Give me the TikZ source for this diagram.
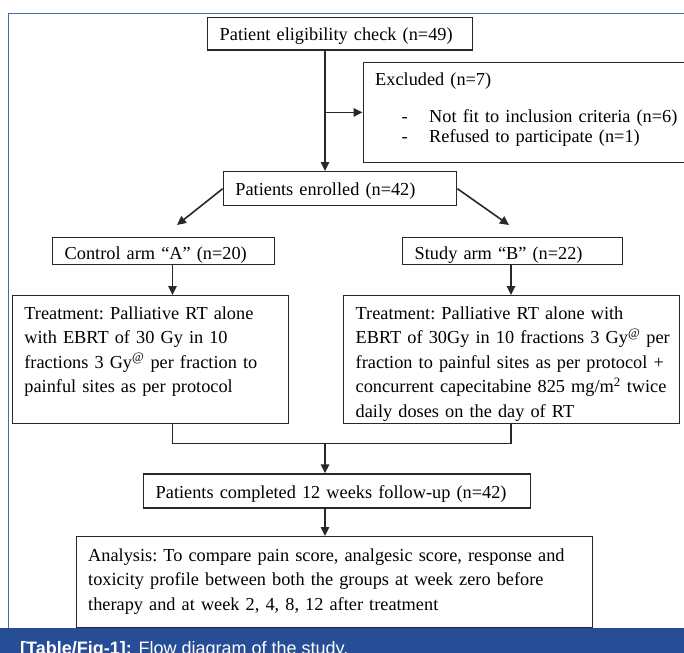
\documentclass[tikz,border=0pt]{standalone}
\usepackage{fontspec}
\setmainfont{Liberation Serif}
\setsansfont{Liberation Sans}
\usepackage{tikz}
\usetikzlibrary{arrows.meta, calc}

\definecolor{capblue}{RGB}{38,77,150}
\definecolor{frameblue}{RGB}{72,106,176}
\definecolor{boxline}{RGB}{40,40,40}

% list line inside the "Excluded" box
\newcommand{\exitem}[1]{\makebox[54bp][l]{\hspace*{26.5bp}-}#1}

\tikzset{
    box/.style={draw=boxline, line width=1.4bp, anchor=north west, align=left,
        inner xsep=12bp, inner ysep=0pt},
    boxsize/.style n args={3}{text width=#1, text height=#2, text depth=#3},
    arr/.style={draw=boxline, line width=1.6bp, -{Triangle[length=9bp, width=8.5bp]}},
    link/.style={draw=boxline, line width=1.6bp},
}

\begin{document}
\begin{tikzpicture}[x=1bp, y=-1bp, font=\frenchspacing\fontsize{18.3bp}{24.5bp}\selectfont]
    \useasboundingbox (0,0) rectangle (684,653);

    % --- frame and caption bar ---
    \draw[frameblue, line width=1.2bp] (700,13.3) -- (8.3,13.3) -- (8.3,628.3);
    \fill[capblue] (0,628.3) rectangle (700,670);
    \node[anchor=base west, inner sep=0pt, text=white,
          font=\sffamily\fontsize{18bp}{20bp}\selectfont] (caption) at (20,654.5)
        {\textbf{[Table/Fig-1]:} Flow diagram of the study.};

    % --- boxes (top left corner at pixel coordinates) ---
    \node[box, boxsize={241bp}{22.5bp}{9.8bp}] (elig) at (207,17)
        {Patient eligibility check (n=49)};
    \node[box, boxsize={313.5bp}{23.3bp}{76.7bp}] (excl) at (362.5,61.7)
        {Excluded (n=7)\\[12.5bp]
         \exitem{Not fit to inclusion criteria (n=6)}\\[-5bp]
         \exitem{Refused to participate (n=1)}};
    \node[box, boxsize={209.3bp}{24bp}{10bp}] (enrol) at (222.7,171)
        {Patients enrolled (n=42)};

    \node[box, boxsize={198bp}{21.8bp}{5.5bp}] (ctrl) at (52,236.7)
        {Control arm “A” (n=20)};
    \node[box, boxsize={196bp}{21.8bp}{5.5bp}] (study) at (402,236.7)
        {Study arm “B” (n=22)};

    \node[box, boxsize={252.3bp}{23.5bp}{104.5bp}] (treatA) at (11.7,295)
        {Treatment: Palliative RT alone\\
         with EBRT of 30 Gy in 10\\
         fractions 3 Gy\textsuperscript{@} per fraction to\\
         painful sites as per protocol};
    \node[box, boxsize={312bp}{23.5bp}{104.5bp}] (treatB) at (343,295)
        {Treatment: Palliative RT alone with\\
         \mbox{EBRT of 30Gy in 10 fractions 3 Gy\textsuperscript{@} per}\\
         \mbox{fraction to painful sites as per protocol +}\\
         \mbox{concurrent capecitabine 825 mg/m\textsuperscript{2} twice}\\
         daily doses on the day of RT};

    \node[box, boxsize={363bp}{24.7bp}{9.3bp}] (compl) at (143,473.3)
        {Patients completed 12 weeks follow-up (n=42)};
    \node[box, boxsize={492.5bp}{24.5bp}{66.2bp}] (anal) at (75.5,536)
        {Analysis: To compare pain score, analgesic score, response and\\
         toxicity profile between both the groups at week zero before\\
         therapy and at week 2, 4, 8, 12 after treatment};

    % --- connectors ---
    \coordinate (spine) at (325,0);
    \coordinate (colA) at (172.5,0);
    \coordinate (colB) at (511,0);
    \coordinate (tipA) at (177,225);
    \coordinate (tipB) at (509,225);
    \coordinate (join) at (325,443.3);

    \draw[arr] (spine |- elig.south) -- (spine |- enrol.north);
    \draw[arr] (spine |- excl.west) -- (excl.west);
    \draw[arr] (enrol.west) -- (tipA);
    \draw[arr] (enrol.east) -- (tipB);
    \foreach \arm/\trt/\col in {ctrl/treatA/colA, study/treatB/colB}
        \draw[arr] (\col |- \arm.south) -- (\col |- \trt.north);
    \draw[link] (colA |- treatA.south) |- (join) -| (colB |- treatB.south);
    \draw[arr] (join) -- (spine |- compl.north);
    \draw[arr] (spine |- compl.south) -- (spine |- anal.north);
\end{tikzpicture}
\end{document}
